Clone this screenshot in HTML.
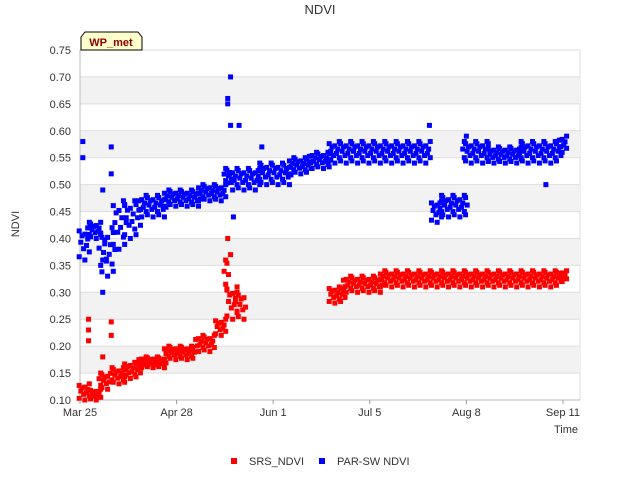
<!DOCTYPE html>
<html><head><meta charset="utf-8"><style>
body{margin:0;background:#fff;font-family:"Liberation Sans",sans-serif}
svg text{font-family:"Liberation Sans",sans-serif;fill:#333}
</style></head><body>
<svg id="c" width="640" height="480">
<text x="320" y="14" text-anchor="middle" font-size="13">NDVI</text>
<text transform="translate(19,224) rotate(-90)" text-anchor="middle" font-size="11">NDVI</text>
<text x="578" y="433" text-anchor="end" font-size="11">Time</text>
<g id="bands"></g><g id="grid"></g><g id="marks"></g><g id="ticks"></g>
<g><path d="M81,50 L81,37 L85,32 L138,32 L142,37 L142,50 Z" fill="#ffffcc" stroke="#000"/><text x="111" y="46" text-anchor="middle" font-size="11" font-weight="bold" style="fill:#8b0000">WP_met</text></g>
<g><rect x="231" y="458" width="6" height="6" fill="#f00"/><text x="249" y="465" font-size="11">SRS_NDVI</text></g>
<g><rect x="319" y="458" width="6" height="6" fill="#00f"/><text x="337" y="465" font-size="11">PAR-SW NDVI</text></g>
</svg>
<script>
const yTicks=[0.10,0.15,0.20,0.25,0.30,0.35,0.40,0.45,0.50,0.55,0.60,0.65,0.70,0.75];
const xTickLabels=["Mar 25","Apr 28","Jun 1","Jul 5","Aug 8","Sep 11"];
const xTickDays=[0,34,68,102,136,170];
// segments: start day, end day, low, high
const srsStart=[0,4,7,11,16,21,30,41,48,51,52,55,88,93,106,169];
const srsEnd=[3,7,10,16,21,30,40,47,51,52,55,58,93,106,169,171];
const srsLo=[0.10,0.10,0.12,0.13,0.14,0.16,0.175,0.19,0.22,0.30,0.25,0.25,0.28,0.30,0.31,0.32];
const srsHi=[0.13,0.12,0.15,0.16,0.17,0.18,0.20,0.22,0.25,0.36,0.31,0.30,0.31,0.33,0.34,0.34];
const srsOutDay=[3,3,3,8,11,11,52,53];
const srsOutVal=[0.25,0.23,0.21,0.18,0.245,0.22,0.40,0.37];
const parStart=[0,3,7,9,12,16,21,30,42,51,53,63,74,81,88,124,127,135,144,155,169];
const parEnd=[3,7,9,12,16,21,30,42,51,53,63,74,81,88,123,127,136,144,155,169,171];
const parLo=[0.36,0.40,0.33,0.33,0.38,0.40,0.44,0.46,0.47,0.50,0.49,0.50,0.52,0.53,0.54,0.43,0.44,0.54,0.54,0.54,0.56];
const parHi=[0.42,0.43,0.41,0.42,0.47,0.47,0.48,0.49,0.50,0.53,0.53,0.54,0.55,0.56,0.58,0.47,0.48,0.58,0.57,0.58,0.59];
const parOutDay=[1,1,8,8,8,11,11,52,52,53,53,54,56,64,123,136,164];
const parOutVal=[0.58,0.55,0.49,0.36,0.30,0.57,0.52,0.66,0.65,0.70,0.61,0.44,0.61,0.57,0.61,0.59,0.50];
const X0=80,X1=580,Y0=400,Y1=50,D0=0,D1=176,V0=0.10,V1=0.75;
const xs=d=>X0+(d-D0)/(D1-D0)*(X1-X0);
const ys=v=>Y0-(v-V0)/(V1-V0)*(Y0-Y1);
const NS="http://www.w3.org/2000/svg";
function mk(p,t,a){const e=document.createElementNS(NS,t);for(const k in a)e.setAttribute(k,a[k]);p.appendChild(e);return e;}
const bands=document.getElementById('bands'),grid=document.getElementById('grid'),marks=document.getElementById('marks'),ticks=document.getElementById('ticks');
mk(bands,'rect',{x:X0,y:Y1,width:X1-X0,height:Y0-Y1,fill:'#fff',stroke:'#ddd'});
for(let i=0;i<yTicks.length;i++){
 const y=ys(yTicks[i]);
 if(i%2==1&&i<yTicks.length-1){const b=mk(bands,'rect',{x:X0,y:ys(yTicks[i+1]),width:X1-X0,height:y-ys(yTicks[i+1]),fill:'#f2f2f2'});
 
 }
 const g=mk(grid,'line',{x1:X0,x2:X1,y1:y,y2:y,stroke:'#ddd'});
 
 
 const t=mk(ticks,'text',{x:71,y:y+4,'text-anchor':'end','font-size':11});t.textContent=yTicks[i].toFixed(2);
 
 
}
mk(grid,'line',{x1:X0,x2:X0,y1:Y1,y2:Y0,stroke:'#bbb'});
mk(grid,'line',{x1:X0,x2:X1,y1:Y0,y2:Y0,stroke:'#bbb'});
for(let i=0;i<xTickDays.length;i++){
 const x=xs(xTickDays[i]);
 mk(ticks,'line',{x1:x,x2:x,y1:Y0,y2:Y0+4,stroke:'#999'});
 const t=mk(ticks,'text',{x:x,y:416,'text-anchor':'middle','font-size':11});t.textContent=xTickLabels[i];
 
 
}
const frac=[[0.1,0.55,0.9],[0.35,0.75],[0.0,0.45,0.8],[0.25,0.65,1.0]];
function series(st,en,lo,hi,od,ov,col,name){
 for(let s=0;s<st.length;s++){for(let d=st[s];d<=en[s];d++){
  const fs=frac[d%4];
  for(let k=0;k<fs.length;k++){
   const v=lo[s]+(hi[s]-lo[s])*fs[k];
   const r=mk(marks,'rect',{x:xs(d)+((d+k)%2?0.8:-0.8)-2.5,y:ys(v)-2.5,width:5,height:5,fill:col});
   
   }}}
 for(let i=0;i<od.length;i++){
  const r=mk(marks,'rect',{x:xs(od[i])-2.5,y:ys(ov[i])-2.5,width:5,height:5,fill:col});
  
  }
}
series(srsStart,srsEnd,srsLo,srsHi,srsOutDay,srsOutVal,'#f00','srs');
series(parStart,parEnd,parLo,parHi,parOutDay,parOutVal,'#00f','parsw');
</script>
</body></html>
